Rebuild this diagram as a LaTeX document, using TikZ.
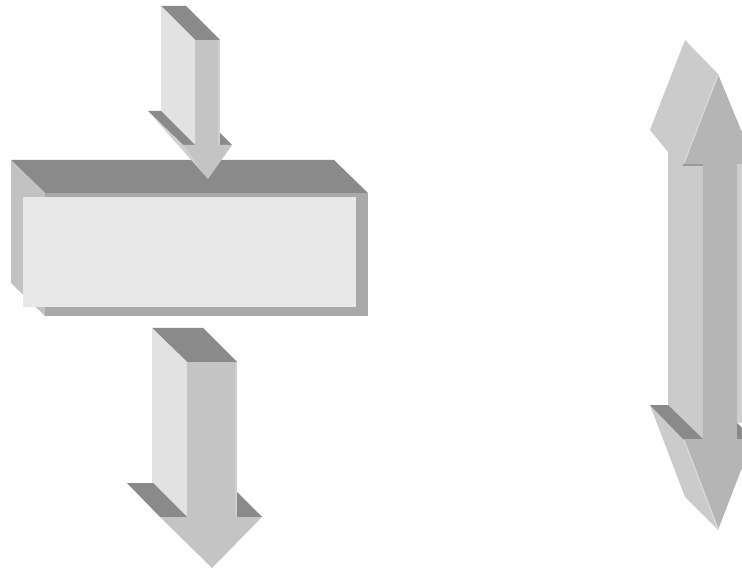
\documentclass[tikz,border=0pt]{standalone}
\usepackage{tikz}
\definecolor{topgray}{HTML}{8A8A8A}
\definecolor{sidegray}{HTML}{E2E2E2}
\definecolor{frontgray}{HTML}{C4C4C4}
\definecolor{boxside}{HTML}{C2C2C2}
\definecolor{boxfront}{HTML}{A9A9A9}
\definecolor{boxface}{HTML}{E8E8E8}
\definecolor{dblside}{HTML}{CBCBCB}
\definecolor{dblfront}{HTML}{B5B5B5}
\begin{document}
\begin{tikzpicture}[x=1pt,y=-1pt,
    topface/.style={fill=topgray},
    sideface/.style={fill=sidegray},
    frontface/.style={fill=frontgray},
    edgeline/.style={draw=#1,line width=1.2pt}]
    \useasboundingbox (0,0) rectangle (742,569);
    \clip (0,0) rectangle (742,569);

    % Block
    \fill[topface] (11,160) -- (334,160) -- (368,193) -- (45,193) -- cycle;
    \fill[boxside] (11,160) -- (45,193) -- (45,316) -- (11,283) -- cycle;
    \fill[boxfront] (45,193) rectangle (368,316);
    \fill[boxface] (23,197) rectangle (356,307);

    % Arrow into the block
    \fill[topface] (161,6) -- (186,6) -- (220,40) -- (195,40) -- cycle;
    \fill[sideface] (161,6) -- (195,40) -- (195,145) -- (161,111) -- cycle;
    \fill[topface] (148,111) -- (161,111) -- (195,145) -- (183,145) -- cycle;
    \fill[topface] (220,133) -- (232,145) -- (220,145) -- cycle;
    \fill[sidegray!92!black] (148,111) -- (183,145) -- (208,179) -- cycle;
    \fill[frontface] (195,40) rectangle (220,145);
    \fill[frontface] (183,145) -- (232,145) -- (208,179) -- cycle;
    \draw[edgeline=frontgray!80!white] (219,41) -- (219,145);

    % Arrow out of the block
    \fill[topface] (152,328) -- (203,328) -- (237,362) -- (187,362) -- cycle;
    \fill[sideface] (152,328) -- (187,362) -- (187,517) -- (152,483) -- cycle;
    \fill[topface] (127,483) -- (153,483) -- (187,517) -- (160,517) -- cycle;
    \fill[topface] (237,492) -- (262,517) -- (237,517) -- cycle;
    \fill[frontface] (187,362) rectangle (237,517);
    \fill[frontface] (160,517) -- (262,517) -- (212,568) -- cycle;
    \draw[edgeline=frontgray!80!white] (236,363) -- (236,517);

    % Double arrow
    \fill[dblside] (685,40) -- (718,74) -- (703,164) -- (703,439) -- (683,439)
        -- (718,530) -- (685,497) -- (650,405) -- (668,405) -- (668,152)
        -- (650,130) -- cycle;
    \fill[topface] (650,405) -- (668,405) -- (703,439) -- (683,439) -- cycle;
    \fill[topface] (737,423) -- (753,439) -- (737,439) -- cycle;
    \fill[dblfront] (703,164) rectangle (737,439);
    \fill[dblside!95!white] (737,164) rectangle (742,423);
    \fill[dblfront] (718,74) -- (755,164) -- (683,164) -- cycle;
    \fill[dblfront] (683,439) -- (753,439) -- (718,530) -- cycle;
    \fill[dblfront!85!black] (683,164) rectangle (703,166.5);
    \draw[edgeline=dblside!70!white] (718,75) -- (684,163);
    \draw[edgeline=dblside!70!white] (684,440) -- (718,529);
\end{tikzpicture}
\end{document}
